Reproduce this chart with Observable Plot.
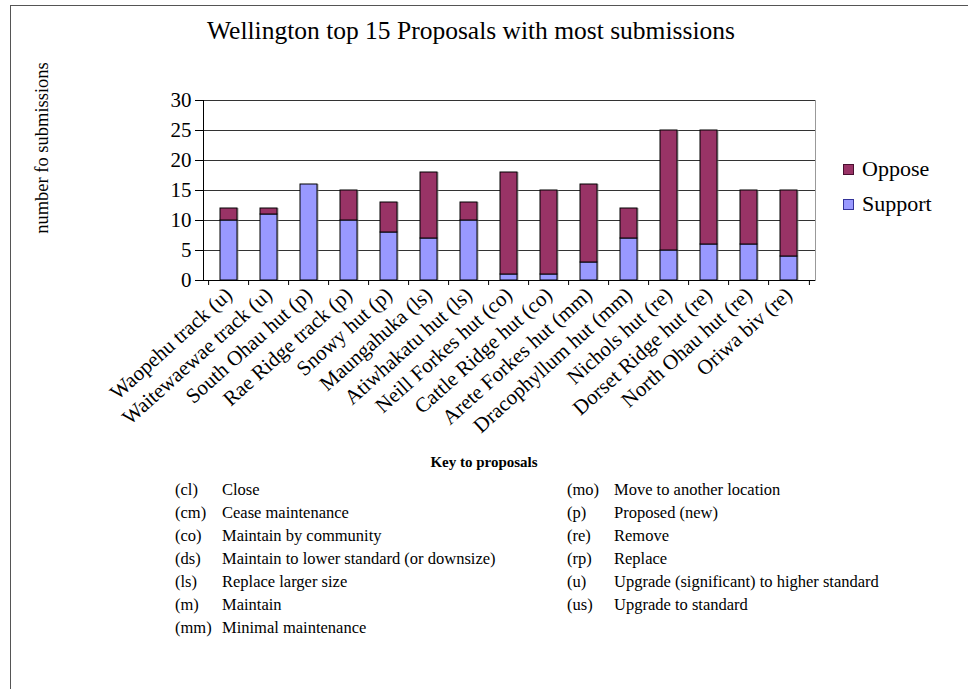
<!DOCTYPE html>
<html>
<head>
<meta charset="utf-8">
<script src="https://cdn.jsdelivr.net/npm/d3@7"></script>
<script src="https://cdn.jsdelivr.net/npm/@observablehq/plot@0.6"></script>
<style>
  body { margin: 0; background: #fff; }
  #page {
    position: relative; width: 968px; height: 689px; overflow: hidden;
    font-family: "Liberation Serif", "Times New Roman", serif; color: #000;
  }
  #frame {
    position: absolute; left: 10px; top: 5px; right: -2px; bottom: -2px;
    border-left: 1px solid #555; border-top: 1px solid #555;
  }
  #chart { position: absolute; left: 0; top: 0; }
  .title { position: absolute; left: 0; width: 942px; top: 16px; text-align: center; font-size: 25.5px; }
  .ylabel {
    position: absolute; left: 42px; top: 148px; font-size: 18.5px; white-space: nowrap;
    transform: translate(-50%, -50%) rotate(-90deg);
  }
  .legend { position: absolute; left: 843px; font-size: 22px; white-space: nowrap; }
  .legend span.sw {
    display: inline-block; width: 9px; height: 9px; margin-right: 8px; vertical-align: 1px;
  }
  .keytitle { position: absolute; left: 0; width: 968px; top: 454px; text-align: center; font-size: 15px; font-weight: bold; }
  .key { position: absolute; font-size: 16.5px; white-space: nowrap; }
</style>
</head>
<body>
<div id="page">
  <div id="frame"></div>
  <div id="chart"></div>
  <div class="title">Wellington top 15 Proposals with most submissions</div>
  <div class="ylabel">number fo submissions</div>
  <div id="legend"></div>
  <div class="keytitle">Key to proposals</div>
  <div id="keylist"></div>
</div>
<script>
// Proposals in chart order, with the number of submissions for and against each
const proposals = [
  "Waopehu track (u)", "Waitewaewae track (u)", "South Ohau hut (p)", "Rae Ridge track (p)",
  "Snowy hut (p)", "Maungahuka (ls)", "Atiwhakatu hut (ls)", "Neill Forkes hut (co)",
  "Cattle Ridge hut (co)", "Arete Forkes hut (mm)", "Dracophyllum hut (mm)", "Nichols hut (re)",
  "Dorset Ridge hut (re)", "North Ohau hut (re)", "Oriwa biv (re)"
];
const support = [10, 11, 16, 10, 8, 7, 10, 1, 1, 3, 7, 5, 6, 6, 4];
const oppose  = [2, 1, 0, 5, 5, 11, 3, 17, 14, 13, 5, 20, 19, 9, 11];
const yTicks = [0, 5, 10, 15, 20, 25, 30];

// Key to the proposal codes, two columns
const keyCodesLeft = ["(cl)", "(cm)", "(co)", "(ds)", "(ls)", "(m)", "(mm)"];
const keyTextLeft = [
  "Close", "Cease maintenance", "Maintain by community",
  "Maintain to lower standard (or downsize)", "Replace larger size", "Maintain", "Minimal maintenance"
];
const keyCodesRight = ["(mo)", "(p)", "(re)", "(rp)", "(u)", "(us)"];
const keyTextRight = [
  "Move to another location", "Proposed (new)", "Remove", "Replace",
  "Upgrade (significant) to higher standard", "Upgrade to standard"
];

const colors = {Oppose: "#993366", Support: "#9999FF"};

// Long table for stacking: support at the bottom, oppose on top
const rows = proposals.flatMap((p, i) => [
  {proposal: p, stance: "Support", n: support[i]},
  {proposal: p, stance: "Oppose", n: oppose[i]}
]);

const W = 968, H = 470;
const mL = 203, mR = 153, mT = 100, mB = 190;
const step = (W - mL - mR) / proposals.length;
const serif = "Liberation Serif, Times New Roman, serif";

const chart = Plot.plot({
  width: W, height: H,
  marginLeft: mL, marginRight: mR, marginTop: mT, marginBottom: mB,
  style: {fontFamily: serif, background: "transparent", overflow: "visible", color: "#000"},
  x: {domain: proposals, paddingInner: 0.57, paddingOuter: 0.285, label: null},
  y: {domain: [0, 30], label: null},
  color: {domain: ["Oppose", "Support"], range: [colors.Oppose, colors.Support]},
  marks: [
    Plot.gridY(yTicks, {stroke: "#000", strokeOpacity: 0.8}),
    Plot.frame({anchor: "right", stroke: "#999"}),
    // soft grey shadow on the right edge of each bar
    Plot.barY(rows, {x: "proposal", y: "n", fill: "#888", dx: 1.5, fillOpacity: 0.7}),
    Plot.barY(rows, {x: "proposal", y: "n", fill: "stance", stroke: "#000", strokeWidth: 1}),
    Plot.frame({anchor: "left", stroke: "#000"}),
    Plot.ruleY([0], {stroke: "#000"}),
    Plot.axisY(yTicks, {tickSize: 8, tickPadding: 4, fontSize: 21, label: null}),
    Plot.axisX({tickSize: 0, tickPadding: 11, tickRotate: -42, fontSize: 21, label: null}),
    // category separators on the horizontal axis
    Plot.ruleX(proposals, {x: d => d, dx: -step / 2, y1: 0, y2: 0, insetBottom: -5, stroke: "#000"}),
    Plot.ruleX(proposals.slice(-1), {x: d => d, dx: step / 2, y1: 0, y2: 0, insetBottom: -5, stroke: "#000"})
  ]
});
document.getElementById("chart").append(chart);

// Legend, Oppose listed first
const legend = document.getElementById("legend");
["Oppose", "Support"].forEach((s, i) => {
  const d = document.createElement("div");
  d.className = "legend";
  d.style.top = (156 + i * 35) + "px";
  d.innerHTML = `<span class="sw" style="background:${colors[s]};border:1px solid ${s === "Oppose" ? "#4a1030" : "#333399"}"></span>${s}`;
  legend.append(d);
});

// Key list
const keylist = document.getElementById("keylist");
function addKey(codes, texts, xCode, xText) {
  codes.forEach((c, i) => {
    const top = 480 + i * 23;
    const a = document.createElement("div");
    a.className = "key"; a.style.left = xCode + "px"; a.style.top = top + "px"; a.textContent = c;
    const b = document.createElement("div");
    b.className = "key"; b.style.left = xText + "px"; b.style.top = top + "px"; b.textContent = texts[i];
    keylist.append(a, b);
  });
}
addKey(keyCodesLeft, keyTextLeft, 175, 222);
addKey(keyCodesRight, keyTextRight, 567, 614);
</script>
</body>
</html>
